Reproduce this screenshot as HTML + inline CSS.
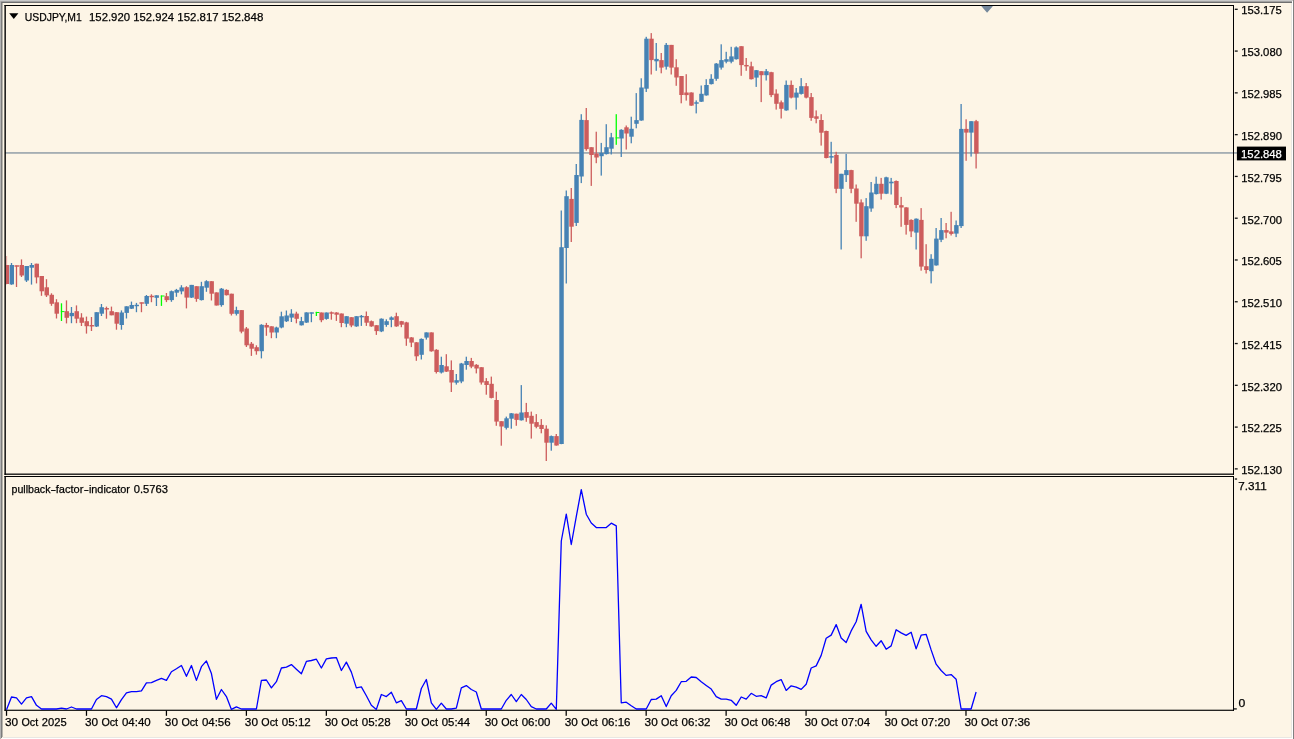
<!DOCTYPE html>
<html lang="en">
<head>
<meta charset="utf-8">
<title>USDJPY,M1</title>
<style>
html,body{margin:0;padding:0;background:#fdf5e6;}
body{width:1294px;height:739px;overflow:hidden;position:relative;}
svg{position:absolute;left:0;top:0;display:block;}
text{font-family:"Liberation Sans",sans-serif;font-size:11.5px;fill:#000;stroke:#000;stroke-width:0.25px;}
</style>
</head>
<body>
<svg width="1294" height="739" viewBox="0 0 1294 739">
<rect x="0" y="0" width="1294" height="739" fill="#fdf5e6"/>
<!-- outer 3D frame -->
<rect x="0" y="0" width="1294" height="1" fill="#c9c9c9"/>
<rect x="0" y="1" width="1294" height="1" fill="#a2a2a2"/>
<rect x="0" y="2" width="1292" height="1" fill="#6f6f6f"/>
<rect x="0" y="1" width="1" height="738" fill="#b2b2b2"/>
<rect x="1" y="2" width="1" height="736" fill="#7c7c7c"/>
<rect x="2" y="3" width="1" height="734" fill="#b9b6ae"/>
<rect x="1291" y="3" width="1" height="735" fill="#e9e7e2"/>
<rect x="1292" y="1" width="1" height="738" fill="#ffffff"/>
<rect x="1293" y="0" width="1" height="739" fill="#808080"/>
<rect x="3" y="737" width="1289" height="1" fill="#e9e7e2"/>
<rect x="2" y="738" width="1291" height="1" fill="#ffffff"/>
<!-- bid line -->
<rect x="5" y="152.35" width="1232" height="1.2" fill="#778899"/>
<!-- candles -->
<clipPath id="cc"><rect x="6" y="6" width="1227" height="467"/></clipPath>
<g clip-path="url(#cc)">
<rect x="5.85" y="256" width="1.3" height="28.5" fill="#cd5c5c" opacity="0.45"/>
<rect x="4.53" y="265" width="4.45" height="19" fill="#cd5c5c"/>
<rect x="10.85" y="263" width="1.3" height="21.8" fill="#4682b4"/>
<rect x="9.53" y="265" width="4.45" height="19.4" fill="#4682b4"/>
<rect x="15.85" y="265.5" width="1.3" height="21.5" fill="#cd5c5c"/>
<rect x="14.53" y="265.27" width="4.45" height="1.45" fill="#cd5c5c"/>
<rect x="20.84" y="259.4" width="1.3" height="17.6" fill="#cd5c5c"/>
<rect x="19.52" y="265" width="4.45" height="10.5" fill="#cd5c5c"/>
<rect x="25.84" y="266" width="1.3" height="16" fill="#4682b4"/>
<rect x="24.52" y="266" width="4.45" height="14.5" fill="#4682b4"/>
<rect x="30.84" y="263" width="1.3" height="21.6" fill="#4682b4"/>
<rect x="29.52" y="265" width="4.45" height="2.7" fill="#4682b4"/>
<rect x="35.84" y="263.7" width="1.3" height="19.7" fill="#cd5c5c"/>
<rect x="34.52" y="263.7" width="4.45" height="13.7" fill="#cd5c5c"/>
<rect x="40.84" y="276" width="1.3" height="19.8" fill="#cd5c5c"/>
<rect x="39.52" y="276" width="4.45" height="15.3" fill="#cd5c5c"/>
<rect x="45.83" y="279.2" width="1.3" height="17.8" fill="#cd5c5c"/>
<rect x="44.51" y="287.3" width="4.45" height="8.1" fill="#cd5c5c"/>
<rect x="50.83" y="293.3" width="1.3" height="12.5" fill="#cd5c5c"/>
<rect x="49.51" y="294.8" width="4.45" height="9" fill="#cd5c5c"/>
<rect x="55.83" y="299.2" width="1.3" height="19.3" fill="#cd5c5c"/>
<rect x="54.51" y="302.3" width="4.45" height="11.4" fill="#cd5c5c"/>
<rect x="60.83" y="303.3" width="1.3" height="17.7" fill="#00ff00"/>
<rect x="60.83" y="311.1" width="3.7" height="1" fill="#00ff00"/>
<rect x="65.83" y="300.4" width="1.3" height="23" fill="#cd5c5c"/>
<rect x="64.51" y="311.2" width="4.45" height="6.6" fill="#cd5c5c"/>
<rect x="70.82" y="307" width="1.3" height="16.2" fill="#4682b4"/>
<rect x="69.5" y="312.9" width="4.45" height="3.3" fill="#4682b4"/>
<rect x="75.82" y="305.4" width="1.3" height="17.8" fill="#cd5c5c"/>
<rect x="74.5" y="311.2" width="4.45" height="7.5" fill="#cd5c5c"/>
<rect x="80.82" y="313.2" width="1.3" height="12.8" fill="#cd5c5c"/>
<rect x="79.5" y="317.5" width="4.45" height="5.3" fill="#cd5c5c"/>
<rect x="85.82" y="316.6" width="1.3" height="17" fill="#cd5c5c"/>
<rect x="84.5" y="321.2" width="4.45" height="5" fill="#cd5c5c"/>
<rect x="90.82" y="317" width="1.3" height="14" fill="#cd5c5c"/>
<rect x="89.5" y="325.02" width="4.45" height="1.45" fill="#cd5c5c"/>
<rect x="95.81" y="312.2" width="1.3" height="14.8" fill="#4682b4"/>
<rect x="94.49" y="312.2" width="4.45" height="14.3" fill="#4682b4"/>
<rect x="100.81" y="304" width="1.3" height="12" fill="#4682b4"/>
<rect x="99.49" y="307.2" width="4.45" height="6.5" fill="#4682b4"/>
<rect x="105.81" y="306.6" width="1.3" height="12.1" fill="#cd5c5c"/>
<rect x="104.49" y="308.07" width="4.45" height="1.45" fill="#cd5c5c"/>
<rect x="110.81" y="306.6" width="1.3" height="8.7" fill="#cd5c5c"/>
<rect x="109.49" y="311.2" width="4.45" height="4.1" fill="#cd5c5c"/>
<rect x="115.81" y="312.2" width="1.3" height="17.5" fill="#cd5c5c"/>
<rect x="114.49" y="312.2" width="4.45" height="11.5" fill="#cd5c5c"/>
<rect x="120.8" y="310.4" width="1.3" height="19.3" fill="#4682b4"/>
<rect x="119.48" y="312.5" width="4.45" height="12.5" fill="#4682b4"/>
<rect x="125.8" y="306.3" width="1.3" height="12.2" fill="#4682b4"/>
<rect x="124.48" y="306.3" width="4.45" height="6.6" fill="#4682b4"/>
<rect x="130.8" y="301.6" width="1.3" height="7.4" fill="#4682b4"/>
<rect x="129.48" y="305" width="4.45" height="3.7" fill="#4682b4"/>
<rect x="135.8" y="302.9" width="1.3" height="9.3" fill="#4682b4"/>
<rect x="134.48" y="304.77" width="4.45" height="1.45" fill="#4682b4"/>
<rect x="140.8" y="302.5" width="1.3" height="9.7" fill="#cd5c5c"/>
<rect x="139.48" y="302.27" width="4.45" height="1.45" fill="#cd5c5c"/>
<rect x="145.79" y="295" width="1.3" height="11" fill="#4682b4"/>
<rect x="144.47" y="296" width="4.45" height="7.8" fill="#4682b4"/>
<rect x="150.79" y="294.3" width="1.3" height="7.9" fill="#cd5c5c"/>
<rect x="149.47" y="295.77" width="4.45" height="1.45" fill="#cd5c5c"/>
<rect x="155.79" y="295.3" width="1.3" height="10.7" fill="#4682b4"/>
<rect x="154.47" y="295.3" width="4.45" height="2.5" fill="#4682b4"/>
<rect x="160.79" y="295.5" width="1.3" height="10.4" fill="#00ff00"/>
<rect x="160.79" y="295.5" width="3.7" height="1" fill="#00ff00"/>
<rect x="165.79" y="293" width="1.3" height="9.1" fill="#cd5c5c"/>
<rect x="164.47" y="296.2" width="4.45" height="3.9" fill="#cd5c5c"/>
<rect x="170.78" y="290.5" width="1.3" height="11.3" fill="#4682b4"/>
<rect x="169.46" y="291.2" width="4.45" height="8.9" fill="#4682b4"/>
<rect x="175.78" y="288.9" width="1.3" height="7.9" fill="#4682b4"/>
<rect x="174.46" y="289.9" width="4.45" height="2.8" fill="#4682b4"/>
<rect x="180.78" y="285.2" width="1.3" height="9.1" fill="#4682b4"/>
<rect x="179.46" y="287.4" width="4.45" height="4" fill="#4682b4"/>
<rect x="185.78" y="286.2" width="1.3" height="22.2" fill="#cd5c5c"/>
<rect x="184.46" y="287.2" width="4.45" height="10.4" fill="#cd5c5c"/>
<rect x="190.78" y="284.9" width="1.3" height="13.1" fill="#4682b4"/>
<rect x="189.46" y="284.9" width="4.45" height="12.7" fill="#4682b4"/>
<rect x="195.77" y="286.2" width="1.3" height="15.6" fill="#cd5c5c"/>
<rect x="194.45" y="286.2" width="4.45" height="12.7" fill="#cd5c5c"/>
<rect x="200.77" y="281.8" width="1.3" height="18.7" fill="#4682b4"/>
<rect x="199.45" y="286.2" width="4.45" height="13.9" fill="#4682b4"/>
<rect x="205.77" y="280.2" width="1.3" height="11.6" fill="#4682b4"/>
<rect x="204.45" y="281.2" width="4.45" height="6.5" fill="#4682b4"/>
<rect x="210.77" y="281.2" width="1.3" height="19.3" fill="#cd5c5c"/>
<rect x="209.45" y="281.2" width="4.45" height="12.5" fill="#cd5c5c"/>
<rect x="215.77" y="292.4" width="1.3" height="13.1" fill="#cd5c5c"/>
<rect x="214.45" y="292.4" width="4.45" height="13.1" fill="#cd5c5c"/>
<rect x="220.76" y="288" width="1.3" height="18.7" fill="#4682b4"/>
<rect x="219.44" y="288.7" width="4.45" height="16.4" fill="#4682b4"/>
<rect x="225.76" y="289.3" width="1.3" height="6.2" fill="#cd5c5c"/>
<rect x="224.44" y="289.9" width="4.45" height="5.3" fill="#cd5c5c"/>
<rect x="230.76" y="293.7" width="1.3" height="21.8" fill="#cd5c5c"/>
<rect x="229.44" y="293.7" width="4.45" height="20.1" fill="#cd5c5c"/>
<rect x="235.76" y="306.7" width="1.3" height="8.8" fill="#4682b4"/>
<rect x="234.44" y="310.1" width="4.45" height="3.7" fill="#4682b4"/>
<rect x="240.76" y="310.1" width="1.3" height="23.2" fill="#cd5c5c"/>
<rect x="239.44" y="310.1" width="4.45" height="21.5" fill="#cd5c5c"/>
<rect x="245.75" y="327" width="1.3" height="20" fill="#cd5c5c"/>
<rect x="244.43" y="328.5" width="4.45" height="16.8" fill="#cd5c5c"/>
<rect x="250.75" y="342" width="1.3" height="13.9" fill="#cd5c5c"/>
<rect x="249.43" y="343.7" width="4.45" height="5" fill="#cd5c5c"/>
<rect x="255.75" y="345.3" width="1.3" height="9.4" fill="#cd5c5c"/>
<rect x="254.43" y="347.2" width="4.45" height="4" fill="#cd5c5c"/>
<rect x="260.75" y="324.2" width="1.3" height="34.2" fill="#4682b4"/>
<rect x="259.43" y="324.8" width="4.45" height="26.4" fill="#4682b4"/>
<rect x="265.75" y="322.9" width="1.3" height="12.9" fill="#cd5c5c"/>
<rect x="264.43" y="325" width="4.45" height="2.5" fill="#cd5c5c"/>
<rect x="270.74" y="326.3" width="1.3" height="11.9" fill="#cd5c5c"/>
<rect x="269.42" y="326.3" width="4.45" height="6.2" fill="#cd5c5c"/>
<rect x="275.74" y="326.7" width="1.3" height="11.5" fill="#4682b4"/>
<rect x="274.42" y="327.5" width="4.45" height="5" fill="#4682b4"/>
<rect x="280.74" y="311.7" width="1.3" height="16.6" fill="#4682b4"/>
<rect x="279.42" y="316.3" width="4.45" height="11.2" fill="#4682b4"/>
<rect x="285.74" y="310.5" width="1.3" height="11.5" fill="#4682b4"/>
<rect x="284.42" y="315.5" width="4.45" height="5.8" fill="#4682b4"/>
<rect x="290.74" y="309.2" width="1.3" height="12.8" fill="#4682b4"/>
<rect x="289.42" y="313.6" width="4.45" height="4" fill="#4682b4"/>
<rect x="295.73" y="311.7" width="1.3" height="11.6" fill="#cd5c5c"/>
<rect x="294.41" y="313.6" width="4.45" height="5.2" fill="#cd5c5c"/>
<rect x="300.73" y="316.9" width="1.3" height="8.6" fill="#4682b4"/>
<rect x="299.41" y="321.1" width="4.45" height="4.2" fill="#4682b4"/>
<rect x="305.73" y="312.3" width="1.3" height="10.6" fill="#4682b4"/>
<rect x="304.41" y="312.4" width="4.45" height="10.2" fill="#4682b4"/>
<rect x="310.73" y="312.5" width="1.3" height="9.7" fill="#4682b4"/>
<rect x="309.41" y="312.27" width="4.45" height="1.45" fill="#4682b4"/>
<rect x="315.73" y="311.8" width="1.3" height="4.2" fill="#00ff00"/>
<rect x="315.73" y="312" width="3.7" height="1" fill="#00ff00"/>
<rect x="320.72" y="312.5" width="1.3" height="9.7" fill="#cd5c5c"/>
<rect x="319.4" y="312.5" width="4.45" height="7.7" fill="#cd5c5c"/>
<rect x="325.72" y="312.5" width="1.3" height="7.2" fill="#4682b4"/>
<rect x="324.4" y="312.5" width="4.45" height="6.4" fill="#4682b4"/>
<rect x="330.72" y="311.5" width="1.3" height="8.2" fill="#cd5c5c"/>
<rect x="329.4" y="312.27" width="4.45" height="1.45" fill="#cd5c5c"/>
<rect x="335.72" y="312.2" width="1.3" height="8.7" fill="#cd5c5c"/>
<rect x="334.4" y="312.5" width="4.45" height="2.2" fill="#cd5c5c"/>
<rect x="340.72" y="313.5" width="1.3" height="13.7" fill="#cd5c5c"/>
<rect x="339.4" y="313.5" width="4.45" height="9.5" fill="#cd5c5c"/>
<rect x="345.71" y="316.2" width="1.3" height="11" fill="#4682b4"/>
<rect x="344.39" y="316.2" width="4.45" height="7.5" fill="#4682b4"/>
<rect x="350.71" y="317.2" width="1.3" height="10" fill="#cd5c5c"/>
<rect x="349.39" y="317.2" width="4.45" height="8.3" fill="#cd5c5c"/>
<rect x="355.71" y="316.2" width="1.3" height="10.6" fill="#4682b4"/>
<rect x="354.39" y="316.2" width="4.45" height="10.2" fill="#4682b4"/>
<rect x="360.71" y="315" width="1.3" height="10.9" fill="#4682b4"/>
<rect x="359.39" y="315.88" width="4.45" height="1.45" fill="#4682b4"/>
<rect x="365.71" y="311.5" width="1.3" height="14.4" fill="#cd5c5c"/>
<rect x="364.39" y="316" width="4.45" height="6.7" fill="#cd5c5c"/>
<rect x="370.7" y="320.5" width="1.3" height="6.3" fill="#cd5c5c"/>
<rect x="369.38" y="321.2" width="4.45" height="5.2" fill="#cd5c5c"/>
<rect x="375.7" y="325.2" width="1.3" height="9.7" fill="#cd5c5c"/>
<rect x="374.38" y="325.2" width="4.45" height="5.9" fill="#cd5c5c"/>
<rect x="380.7" y="318.4" width="1.3" height="13.7" fill="#4682b4"/>
<rect x="379.38" y="318.7" width="4.45" height="12.7" fill="#4682b4"/>
<rect x="385.7" y="319.3" width="1.3" height="7.5" fill="#4682b4"/>
<rect x="384.38" y="321.2" width="4.45" height="3.7" fill="#4682b4"/>
<rect x="390.7" y="316.4" width="1.3" height="10.8" fill="#4682b4"/>
<rect x="389.38" y="317.4" width="4.45" height="2.5" fill="#4682b4"/>
<rect x="395.69" y="312.7" width="1.3" height="14.1" fill="#cd5c5c"/>
<rect x="394.37" y="316.2" width="4.45" height="10.2" fill="#cd5c5c"/>
<rect x="400.69" y="320.9" width="1.3" height="6.3" fill="#cd5c5c"/>
<rect x="399.37" y="321.2" width="4.45" height="3.5" fill="#cd5c5c"/>
<rect x="405.69" y="321.8" width="1.3" height="24" fill="#cd5c5c"/>
<rect x="404.37" y="322.4" width="4.45" height="16.2" fill="#cd5c5c"/>
<rect x="410.69" y="337.1" width="1.3" height="10" fill="#cd5c5c"/>
<rect x="409.37" y="337.4" width="4.45" height="5.2" fill="#cd5c5c"/>
<rect x="415.69" y="342.1" width="1.3" height="18.7" fill="#cd5c5c"/>
<rect x="414.37" y="342.3" width="4.45" height="14" fill="#cd5c5c"/>
<rect x="420.68" y="338.4" width="1.3" height="21.1" fill="#4682b4"/>
<rect x="419.36" y="338.9" width="4.45" height="15.9" fill="#4682b4"/>
<rect x="425.68" y="332.4" width="1.3" height="7.2" fill="#4682b4"/>
<rect x="424.36" y="332.4" width="4.45" height="5.2" fill="#4682b4"/>
<rect x="430.68" y="332.4" width="1.3" height="19.3" fill="#cd5c5c"/>
<rect x="429.36" y="332.4" width="4.45" height="18.9" fill="#cd5c5c"/>
<rect x="435.68" y="349.2" width="1.3" height="24.3" fill="#cd5c5c"/>
<rect x="434.36" y="349.8" width="4.45" height="22.2" fill="#cd5c5c"/>
<rect x="440.68" y="356.7" width="1.3" height="16.8" fill="#4682b4"/>
<rect x="439.36" y="365" width="4.45" height="7.5" fill="#4682b4"/>
<rect x="445.67" y="354.2" width="1.3" height="17.8" fill="#cd5c5c"/>
<rect x="444.35" y="366.3" width="4.45" height="5.3" fill="#cd5c5c"/>
<rect x="450.67" y="360.4" width="1.3" height="31.6" fill="#cd5c5c"/>
<rect x="449.35" y="370" width="4.45" height="12.5" fill="#cd5c5c"/>
<rect x="455.67" y="374" width="1.3" height="10.6" fill="#4682b4"/>
<rect x="454.35" y="380.2" width="4.45" height="2.5" fill="#4682b4"/>
<rect x="460.67" y="362.9" width="1.3" height="20.3" fill="#4682b4"/>
<rect x="459.35" y="363.5" width="4.45" height="18" fill="#4682b4"/>
<rect x="465.67" y="356.7" width="1.3" height="13" fill="#4682b4"/>
<rect x="464.35" y="361" width="4.45" height="4" fill="#4682b4"/>
<rect x="470.66" y="357.9" width="1.3" height="10.3" fill="#cd5c5c"/>
<rect x="469.34" y="361" width="4.45" height="5.6" fill="#cd5c5c"/>
<rect x="475.66" y="364.1" width="1.3" height="9.3" fill="#cd5c5c"/>
<rect x="474.34" y="364.8" width="4.45" height="3.7" fill="#cd5c5c"/>
<rect x="480.66" y="367.2" width="1.3" height="17.4" fill="#cd5c5c"/>
<rect x="479.34" y="367.2" width="4.45" height="15.3" fill="#cd5c5c"/>
<rect x="485.66" y="378.1" width="1.3" height="16.6" fill="#cd5c5c"/>
<rect x="484.34" y="381.1" width="4.45" height="3.9" fill="#cd5c5c"/>
<rect x="490.66" y="376.6" width="1.3" height="21.8" fill="#cd5c5c"/>
<rect x="489.34" y="383.8" width="4.45" height="14.1" fill="#cd5c5c"/>
<rect x="495.65" y="391.7" width="1.3" height="34.1" fill="#cd5c5c"/>
<rect x="494.33" y="400" width="4.45" height="21.6" fill="#cd5c5c"/>
<rect x="500.65" y="421.2" width="1.3" height="24.5" fill="#cd5c5c"/>
<rect x="499.33" y="421.2" width="4.45" height="5.3" fill="#cd5c5c"/>
<rect x="505.65" y="416.6" width="1.3" height="12.9" fill="#4682b4"/>
<rect x="504.33" y="418.3" width="4.45" height="9.5" fill="#4682b4"/>
<rect x="510.65" y="413" width="1.3" height="15.7" fill="#4682b4"/>
<rect x="509.33" y="413.3" width="4.45" height="5.4" fill="#4682b4"/>
<rect x="515.65" y="413.7" width="1.3" height="12.1" fill="#cd5c5c"/>
<rect x="514.33" y="413.7" width="4.45" height="6.2" fill="#cd5c5c"/>
<rect x="520.64" y="385.1" width="1.3" height="35.5" fill="#4682b4"/>
<rect x="519.32" y="412.5" width="4.45" height="7.8" fill="#4682b4"/>
<rect x="525.64" y="402.9" width="1.3" height="18.9" fill="#cd5c5c"/>
<rect x="524.32" y="412.1" width="4.45" height="5.7" fill="#cd5c5c"/>
<rect x="530.64" y="411.6" width="1.3" height="27" fill="#cd5c5c"/>
<rect x="529.32" y="415.8" width="4.45" height="7.9" fill="#cd5c5c"/>
<rect x="535.64" y="414.1" width="1.3" height="14.2" fill="#cd5c5c"/>
<rect x="534.32" y="422.1" width="4.45" height="4.7" fill="#cd5c5c"/>
<rect x="540.64" y="419.1" width="1.3" height="14.2" fill="#cd5c5c"/>
<rect x="539.32" y="424.9" width="4.45" height="4.1" fill="#cd5c5c"/>
<rect x="545.63" y="425.3" width="1.3" height="35.7" fill="#cd5c5c"/>
<rect x="544.31" y="428.7" width="4.45" height="14" fill="#cd5c5c"/>
<rect x="550.63" y="435.5" width="1.3" height="15.2" fill="#4682b4"/>
<rect x="549.31" y="436.1" width="4.45" height="6.6" fill="#4682b4"/>
<rect x="555.63" y="434" width="1.3" height="11.7" fill="#cd5c5c"/>
<rect x="554.31" y="436.1" width="4.45" height="9.4" fill="#cd5c5c"/>
<rect x="560.63" y="210.5" width="1.3" height="233.7" fill="#4682b4"/>
<rect x="559.31" y="247.2" width="4.45" height="196.8" fill="#4682b4"/>
<rect x="565.63" y="190.5" width="1.3" height="93" fill="#4682b4"/>
<rect x="564.31" y="196.2" width="4.45" height="51.8" fill="#4682b4"/>
<rect x="570.62" y="188" width="1.3" height="54" fill="#cd5c5c"/>
<rect x="569.3" y="198.9" width="4.45" height="27.8" fill="#cd5c5c"/>
<rect x="575.62" y="164" width="1.3" height="62" fill="#4682b4"/>
<rect x="574.3" y="175" width="4.45" height="47.9" fill="#4682b4"/>
<rect x="580.62" y="114.2" width="1.3" height="68.9" fill="#4682b4"/>
<rect x="579.3" y="119.9" width="4.45" height="56.6" fill="#4682b4"/>
<rect x="585.62" y="108" width="1.3" height="42.7" fill="#cd5c5c"/>
<rect x="584.3" y="120.1" width="4.45" height="29" fill="#cd5c5c"/>
<rect x="590.62" y="147.2" width="1.3" height="38.7" fill="#cd5c5c"/>
<rect x="589.3" y="147.2" width="4.45" height="7.8" fill="#cd5c5c"/>
<rect x="595.61" y="131.7" width="1.3" height="31.5" fill="#cd5c5c"/>
<rect x="594.29" y="153.5" width="4.45" height="4" fill="#cd5c5c"/>
<rect x="600.61" y="142.9" width="1.3" height="32.7" fill="#4682b4"/>
<rect x="599.29" y="152.9" width="4.45" height="3.3" fill="#4682b4"/>
<rect x="605.61" y="124.2" width="1.3" height="30.3" fill="#4682b4"/>
<rect x="604.29" y="147.2" width="4.45" height="6.9" fill="#4682b4"/>
<rect x="610.61" y="132.9" width="1.3" height="21.6" fill="#4682b4"/>
<rect x="609.29" y="137.3" width="4.45" height="11.4" fill="#4682b4"/>
<rect x="615.61" y="114.2" width="1.3" height="30.6" fill="#00ff00"/>
<rect x="615.61" y="137.4" width="3.7" height="1" fill="#00ff00"/>
<rect x="620.6" y="129.2" width="1.3" height="27.8" fill="#4682b4"/>
<rect x="619.28" y="129.8" width="4.45" height="8.7" fill="#4682b4"/>
<rect x="625.6" y="125.5" width="1.3" height="24" fill="#cd5c5c"/>
<rect x="624.28" y="127.3" width="4.45" height="6.2" fill="#cd5c5c"/>
<rect x="630.6" y="116.7" width="1.3" height="26.6" fill="#4682b4"/>
<rect x="629.28" y="128.8" width="4.45" height="7.9" fill="#4682b4"/>
<rect x="635.6" y="93.1" width="1.3" height="35.2" fill="#4682b4"/>
<rect x="634.28" y="120.1" width="4.45" height="3.7" fill="#4682b4"/>
<rect x="640.6" y="78.3" width="1.3" height="42.5" fill="#4682b4"/>
<rect x="639.28" y="87.5" width="4.45" height="33" fill="#4682b4"/>
<rect x="645.59" y="36.8" width="1.3" height="55.2" fill="#4682b4"/>
<rect x="644.27" y="38.7" width="4.45" height="50" fill="#4682b4"/>
<rect x="650.59" y="33.1" width="1.3" height="41.4" fill="#cd5c5c"/>
<rect x="649.27" y="38.7" width="4.45" height="21.4" fill="#cd5c5c"/>
<rect x="655.59" y="43" width="1.3" height="27.8" fill="#4682b4"/>
<rect x="654.27" y="58.9" width="4.45" height="2.4" fill="#4682b4"/>
<rect x="660.59" y="53" width="1.3" height="20.3" fill="#cd5c5c"/>
<rect x="659.27" y="60.1" width="4.45" height="7.5" fill="#cd5c5c"/>
<rect x="665.59" y="43" width="1.3" height="26.6" fill="#4682b4"/>
<rect x="664.27" y="44.9" width="4.45" height="21.8" fill="#4682b4"/>
<rect x="670.58" y="44.9" width="1.3" height="29.6" fill="#cd5c5c"/>
<rect x="669.26" y="44.9" width="4.45" height="22.7" fill="#cd5c5c"/>
<rect x="675.58" y="59.2" width="1.3" height="26.6" fill="#cd5c5c"/>
<rect x="674.26" y="67.3" width="4.45" height="10.2" fill="#cd5c5c"/>
<rect x="680.58" y="76" width="1.3" height="27.3" fill="#cd5c5c"/>
<rect x="679.26" y="76" width="4.45" height="19" fill="#cd5c5c"/>
<rect x="685.58" y="74.2" width="1.3" height="26.4" fill="#cd5c5c"/>
<rect x="684.26" y="92.5" width="4.45" height="2.6" fill="#cd5c5c"/>
<rect x="690.58" y="92.3" width="1.3" height="13.6" fill="#cd5c5c"/>
<rect x="689.26" y="92.5" width="4.45" height="13.1" fill="#cd5c5c"/>
<rect x="695.57" y="100.4" width="1.3" height="13" fill="#4682b4"/>
<rect x="694.25" y="102.28" width="4.45" height="1.45" fill="#4682b4"/>
<rect x="700.57" y="85.5" width="1.3" height="16.5" fill="#4682b4"/>
<rect x="699.25" y="93.8" width="4.45" height="7.9" fill="#4682b4"/>
<rect x="705.57" y="79.2" width="1.3" height="16.5" fill="#4682b4"/>
<rect x="704.25" y="85" width="4.45" height="10.4" fill="#4682b4"/>
<rect x="710.57" y="74.2" width="1.3" height="10.3" fill="#4682b4"/>
<rect x="709.25" y="78.8" width="4.45" height="5.3" fill="#4682b4"/>
<rect x="715.57" y="63" width="1.3" height="17.8" fill="#4682b4"/>
<rect x="714.25" y="63.6" width="4.45" height="15.2" fill="#4682b4"/>
<rect x="720.56" y="44.3" width="1.3" height="25.3" fill="#4682b4"/>
<rect x="719.24" y="60.1" width="4.45" height="7.5" fill="#4682b4"/>
<rect x="725.56" y="51.8" width="1.3" height="11.5" fill="#4682b4"/>
<rect x="724.24" y="59.2" width="4.45" height="2.5" fill="#4682b4"/>
<rect x="730.56" y="46.8" width="1.3" height="16.5" fill="#4682b4"/>
<rect x="729.24" y="56.4" width="4.45" height="5.3" fill="#4682b4"/>
<rect x="735.56" y="46.4" width="1.3" height="13.2" fill="#4682b4"/>
<rect x="734.24" y="47.4" width="4.45" height="11.8" fill="#4682b4"/>
<rect x="740.56" y="46.2" width="1.3" height="29.6" fill="#cd5c5c"/>
<rect x="739.24" y="46.2" width="4.45" height="18.9" fill="#cd5c5c"/>
<rect x="745.55" y="58" width="1.3" height="12.8" fill="#cd5c5c"/>
<rect x="744.23" y="64.97" width="4.45" height="1.45" fill="#cd5c5c"/>
<rect x="750.55" y="61.7" width="1.3" height="17.8" fill="#cd5c5c"/>
<rect x="749.23" y="66.3" width="4.45" height="12.9" fill="#cd5c5c"/>
<rect x="755.55" y="70" width="1.3" height="16.9" fill="#4682b4"/>
<rect x="754.23" y="70.2" width="4.45" height="7.4" fill="#4682b4"/>
<rect x="760.55" y="71.2" width="1.3" height="30.9" fill="#cd5c5c"/>
<rect x="759.23" y="71.2" width="4.45" height="4" fill="#cd5c5c"/>
<rect x="765.55" y="69" width="1.3" height="11.5" fill="#4682b4"/>
<rect x="764.23" y="71.2" width="4.45" height="4" fill="#4682b4"/>
<rect x="770.54" y="71.8" width="1.3" height="25.3" fill="#cd5c5c"/>
<rect x="769.22" y="72.2" width="4.45" height="22.9" fill="#cd5c5c"/>
<rect x="775.54" y="89.3" width="1.3" height="20.3" fill="#cd5c5c"/>
<rect x="774.22" y="93.6" width="4.45" height="10.2" fill="#cd5c5c"/>
<rect x="780.54" y="100.5" width="1.3" height="18" fill="#cd5c5c"/>
<rect x="779.22" y="102.3" width="4.45" height="6.5" fill="#cd5c5c"/>
<rect x="785.54" y="80.5" width="1.3" height="30.3" fill="#4682b4"/>
<rect x="784.22" y="84.9" width="4.45" height="25.5" fill="#4682b4"/>
<rect x="790.54" y="80.5" width="1.3" height="17.9" fill="#cd5c5c"/>
<rect x="789.22" y="84.9" width="4.45" height="12.7" fill="#cd5c5c"/>
<rect x="795.53" y="88" width="1.3" height="21.6" fill="#4682b4"/>
<rect x="794.21" y="92.6" width="4.45" height="5" fill="#4682b4"/>
<rect x="800.53" y="78.1" width="1.3" height="16.5" fill="#4682b4"/>
<rect x="799.21" y="86.2" width="4.45" height="7.7" fill="#4682b4"/>
<rect x="805.53" y="83" width="1.3" height="15.4" fill="#cd5c5c"/>
<rect x="804.21" y="86.2" width="4.45" height="11.4" fill="#cd5c5c"/>
<rect x="810.53" y="93" width="1.3" height="27.8" fill="#cd5c5c"/>
<rect x="809.21" y="97.1" width="4.45" height="20.8" fill="#cd5c5c"/>
<rect x="815.53" y="110.4" width="1.3" height="12.9" fill="#cd5c5c"/>
<rect x="814.21" y="116.3" width="4.45" height="2.5" fill="#cd5c5c"/>
<rect x="820.52" y="114.2" width="1.3" height="31.4" fill="#cd5c5c"/>
<rect x="819.2" y="120" width="4.45" height="12.7" fill="#cd5c5c"/>
<rect x="825.52" y="130.6" width="1.3" height="27.8" fill="#cd5c5c"/>
<rect x="824.2" y="131" width="4.45" height="27" fill="#cd5c5c"/>
<rect x="830.52" y="141.8" width="1.3" height="21.6" fill="#4682b4"/>
<rect x="829.2" y="156.1" width="4.45" height="1.5" fill="#4682b4"/>
<rect x="835.52" y="151.8" width="1.3" height="41.4" fill="#cd5c5c"/>
<rect x="834.2" y="154.9" width="4.45" height="33.9" fill="#cd5c5c"/>
<rect x="840.52" y="173.8" width="1.3" height="75.7" fill="#4682b4"/>
<rect x="839.2" y="173.8" width="4.45" height="15" fill="#4682b4"/>
<rect x="845.51" y="153.9" width="1.3" height="28.1" fill="#4682b4"/>
<rect x="844.19" y="170.1" width="4.45" height="5" fill="#4682b4"/>
<rect x="850.51" y="169.8" width="1.3" height="23.4" fill="#cd5c5c"/>
<rect x="849.19" y="170.1" width="4.45" height="18.7" fill="#cd5c5c"/>
<rect x="855.51" y="184.5" width="1.3" height="37.3" fill="#cd5c5c"/>
<rect x="854.19" y="188.5" width="4.45" height="15.2" fill="#cd5c5c"/>
<rect x="860.51" y="199.4" width="1.3" height="58.9" fill="#cd5c5c"/>
<rect x="859.19" y="202.4" width="4.45" height="33.9" fill="#cd5c5c"/>
<rect x="865.51" y="198.1" width="1.3" height="42.7" fill="#4682b4"/>
<rect x="864.19" y="206.2" width="4.45" height="30.1" fill="#4682b4"/>
<rect x="870.5" y="182" width="1.3" height="29.8" fill="#4682b4"/>
<rect x="869.18" y="192.5" width="4.45" height="16" fill="#4682b4"/>
<rect x="875.5" y="176.7" width="1.3" height="17.8" fill="#4682b4"/>
<rect x="874.18" y="183.8" width="4.45" height="10.3" fill="#4682b4"/>
<rect x="880.5" y="177.9" width="1.3" height="21.7" fill="#cd5c5c"/>
<rect x="879.18" y="183.8" width="4.45" height="9.9" fill="#cd5c5c"/>
<rect x="885.5" y="176.7" width="1.3" height="17.4" fill="#4682b4"/>
<rect x="884.18" y="177.3" width="4.45" height="16.4" fill="#4682b4"/>
<rect x="890.5" y="177.9" width="1.3" height="16.6" fill="#4682b4"/>
<rect x="889.18" y="181.7" width="4.45" height="1.6" fill="#4682b4"/>
<rect x="895.49" y="180.4" width="1.3" height="27.7" fill="#cd5c5c"/>
<rect x="894.17" y="181" width="4.45" height="24" fill="#cd5c5c"/>
<rect x="900.49" y="196.9" width="1.3" height="29.9" fill="#cd5c5c"/>
<rect x="899.17" y="205.2" width="4.45" height="2.3" fill="#cd5c5c"/>
<rect x="905.49" y="207.2" width="1.3" height="27.4" fill="#cd5c5c"/>
<rect x="904.17" y="207.4" width="4.45" height="17.5" fill="#cd5c5c"/>
<rect x="910.49" y="219.3" width="1.3" height="17.8" fill="#cd5c5c"/>
<rect x="909.17" y="219.9" width="4.45" height="11.5" fill="#cd5c5c"/>
<rect x="915.49" y="218.4" width="1.3" height="31.1" fill="#4682b4"/>
<rect x="914.17" y="218.7" width="4.45" height="13.9" fill="#4682b4"/>
<rect x="920.48" y="208.1" width="1.3" height="62.6" fill="#cd5c5c"/>
<rect x="919.16" y="219.9" width="4.45" height="46.7" fill="#cd5c5c"/>
<rect x="925.48" y="244.2" width="1.3" height="29.3" fill="#cd5c5c"/>
<rect x="924.16" y="266.2" width="4.45" height="3.8" fill="#cd5c5c"/>
<rect x="930.48" y="254.2" width="1.3" height="29.2" fill="#4682b4"/>
<rect x="929.16" y="258.8" width="4.45" height="12.4" fill="#4682b4"/>
<rect x="935.48" y="228" width="1.3" height="37.7" fill="#4682b4"/>
<rect x="934.16" y="238.6" width="4.45" height="26.8" fill="#4682b4"/>
<rect x="940.48" y="218" width="1.3" height="24.1" fill="#4682b4"/>
<rect x="939.16" y="230.1" width="4.45" height="9.7" fill="#4682b4"/>
<rect x="945.47" y="223" width="1.3" height="15.3" fill="#cd5c5c"/>
<rect x="944.15" y="230.1" width="4.45" height="2.5" fill="#cd5c5c"/>
<rect x="950.47" y="211.8" width="1.3" height="23.7" fill="#cd5c5c"/>
<rect x="949.15" y="231.4" width="4.45" height="2.5" fill="#cd5c5c"/>
<rect x="955.47" y="220.5" width="1.3" height="16.6" fill="#4682b4"/>
<rect x="954.15" y="225.1" width="4.45" height="8.5" fill="#4682b4"/>
<rect x="960.47" y="104" width="1.3" height="124" fill="#4682b4"/>
<rect x="959.15" y="128.9" width="4.45" height="97.2" fill="#4682b4"/>
<rect x="965.47" y="119.3" width="1.3" height="41.5" fill="#cd5c5c"/>
<rect x="964.15" y="128.9" width="4.45" height="3.7" fill="#cd5c5c"/>
<rect x="970.46" y="121.2" width="1.3" height="35.4" fill="#4682b4"/>
<rect x="969.14" y="121.2" width="4.45" height="11.4" fill="#4682b4"/>
<rect x="975.46" y="119.9" width="1.3" height="48.6" fill="#cd5c5c"/>
<rect x="974.14" y="121.2" width="4.45" height="32.3" fill="#cd5c5c"/>
</g>
<!-- chart shift marker -->
<polygon points="980.8,5.5 993.4,5.5 987.1,12.8" fill="#74879b"/>
<!-- main window frame -->
<rect x="4.45" y="5" width="1229.55" height="1" fill="#000"/>
<rect x="4.45" y="473.55" width="1229.55" height="1.25" fill="#000"/>
<rect x="4.45" y="5" width="1.4" height="469.8" fill="#000"/>
<rect x="1233" y="5" width="1" height="469.8" fill="#000"/>
<!-- indicator window frame -->
<rect x="4.45" y="476" width="1229.55" height="1" fill="#000"/>
<rect x="4.45" y="709.7" width="1229.55" height="1.15" fill="#000"/>
<rect x="4.45" y="476" width="1.4" height="234.8" fill="#000"/>
<rect x="1233" y="476" width="1" height="235" fill="#000"/>
<!-- indicator line -->
<polyline points="6.5,709.7 11.5,697 16.5,697.9 21.49,704.1 26.49,697.9 31.49,696.7 36.49,705.3 41.49,709 46.48,709 51.48,709 56.48,709 61.48,708.2 66.48,709 71.47,707 76.47,709 81.47,709 86.47,709 91.47,709 96.46,699.5 101.46,695.7 106.46,696.6 111.46,699.1 116.46,707.8 121.45,699.7 126.45,692.9 131.45,691.6 136.45,691.6 141.45,690.8 146.44,682.9 151.44,682.7 156.44,680.4 161.44,678.3 166.44,680.4 171.43,671.7 176.43,668.8 181.43,665.5 186.43,676.3 191.43,665.5 196.42,680.4 201.42,666.7 206.42,660.9 211.42,673.6 216.42,699.3 221.41,689.5 226.41,696.6 231.41,709.4 236.41,706.9 241.41,709 246.4,709 251.4,709 256.4,709 261.4,680.4 266.4,680 271.39,687.9 276.39,681.7 281.39,668 286.39,667.1 291.39,664.6 296.38,669.2 301.38,673.8 306.38,661.4 311.38,660.5 316.38,659.2 321.37,668 326.37,658.9 331.37,658 336.37,657.6 341.37,670.5 346.36,662.1 351.36,672.1 356.36,687.9 361.36,686.9 366.36,695.7 371.35,705.3 376.35,709.4 381.35,694.5 386.35,696.6 391.35,692.2 396.34,702.8 401.34,700.6 406.34,709 411.34,709 416.34,709 421.33,688.5 426.33,679.5 431.33,702.8 436.33,709.4 441.33,703.2 446.32,709 451.32,709 456.32,708.2 461.32,687.9 466.32,685.6 471.31,689.5 476.31,692 481.31,709 486.31,709 491.31,709 496.3,709 501.3,709 506.3,700.3 511.3,694.5 516.3,701.6 521.29,694.5 526.29,699.5 531.29,706.6 536.29,709 541.29,709 546.28,709 551.28,703.2 556.28,709.4 561.28,541 566.28,514.2 571.27,544.5 576.27,516.7 581.27,489.6 586.27,514.2 591.27,523 596.26,527.6 601.26,527.6 606.26,527.6 611.26,523.2 616.26,525.8 621.25,702.8 626.25,702.2 631.25,705.7 636.25,709 641.25,709 646.24,709 651.24,699.5 656.24,699.1 661.24,695.7 666.24,706.6 671.23,695.7 676.23,690.4 681.23,681.7 686.23,681.3 691.23,677 696.22,677.5 701.22,681.7 706.22,685.4 711.22,689.1 716.22,696.6 721.21,699.1 726.21,699.1 731.21,700.3 736.21,705.3 741.21,697 746.2,699.1 751.2,693.3 756.2,696.3 761.2,695.7 766.2,697.9 771.19,685.1 776.19,681.7 781.19,679.6 786.19,690.4 791.19,685.8 796.18,687.1 801.18,689.4 806.18,684.2 811.18,668 816.18,665.9 821.17,655.4 826.17,638.3 831.17,635.1 836.17,624.6 841.17,638 846.16,642.6 851.16,630.9 856.16,621.8 861.16,604.3 866.16,631.4 871.15,639.8 876.15,646.3 881.15,640.7 886.15,649.2 891.15,645.9 896.14,629.7 901.14,632.9 906.14,635.4 911.14,632.3 916.14,648.9 921.13,635.2 926.13,634.3 931.13,649.9 936.13,664.2 941.13,670.5 946.12,675.4 951.12,674.6 956.12,679.2 961.12,709 966.12,709 971.11,709 976.11,692" fill="none" stroke="#0000ff" stroke-width="1.3" stroke-linejoin="round"/>
<!-- price axis -->
<rect x="1234.8" y="8.65" width="2.9" height="1.3" fill="#111"/>
<rect x="1234.8" y="50.43" width="2.9" height="1.3" fill="#111"/>
<rect x="1234.8" y="92.21" width="2.9" height="1.3" fill="#111"/>
<rect x="1234.8" y="133.99" width="2.9" height="1.3" fill="#111"/>
<rect x="1234.8" y="175.77" width="2.9" height="1.3" fill="#111"/>
<rect x="1234.8" y="217.55" width="2.9" height="1.3" fill="#111"/>
<rect x="1234.8" y="259.33" width="2.9" height="1.3" fill="#111"/>
<rect x="1234.8" y="301.11" width="2.9" height="1.3" fill="#111"/>
<rect x="1234.8" y="342.89" width="2.9" height="1.3" fill="#111"/>
<rect x="1234.8" y="384.67" width="2.9" height="1.3" fill="#111"/>
<rect x="1234.8" y="426.45" width="2.9" height="1.3" fill="#111"/>
<rect x="1234.8" y="468.23" width="2.9" height="1.3" fill="#111"/>
<rect x="1236.9" y="146.6" width="49.1" height="13.8" fill="#000"/>
<!-- indicator axis -->
<rect x="1234.8" y="478.35" width="2.3" height="1.3" fill="#111"/>
<rect x="1234" y="708.2" width="2.8" height="1.4" fill="#222"/>
<!-- titles -->
<polygon points="9.2,13.3 18.4,13.3 13.8,18.9" fill="#000"/>
<!-- time axis -->
<rect x="5.9" y="710.5" width="1.25" height="5.3" fill="#000"/>
<rect x="85.86" y="710.5" width="1.25" height="5.3" fill="#000"/>
<rect x="165.81" y="710.5" width="1.25" height="5.3" fill="#000"/>
<rect x="245.77" y="710.5" width="1.25" height="5.3" fill="#000"/>
<rect x="325.72" y="710.5" width="1.25" height="5.3" fill="#000"/>
<rect x="405.67" y="710.5" width="1.25" height="5.3" fill="#000"/>
<rect x="485.63" y="710.5" width="1.25" height="5.3" fill="#000"/>
<rect x="565.58" y="710.5" width="1.25" height="5.3" fill="#000"/>
<rect x="645.54" y="710.5" width="1.25" height="5.3" fill="#000"/>
<rect x="725.5" y="710.5" width="1.25" height="5.3" fill="#000"/>
<rect x="805.45" y="710.5" width="1.25" height="5.3" fill="#000"/>
<rect x="885.4" y="710.5" width="1.25" height="5.3" fill="#000"/>
<rect x="965.36" y="710.5" width="1.25" height="5.3" fill="#000"/>
<!-- text -->
<text y="14.2" xml:space="preserve"><tspan x="1241.17" textLength="40.69" lengthAdjust="spacingAndGlyphs">153.175</tspan></text>
<text y="56.38" xml:space="preserve"><tspan x="1241.17" textLength="40.79" lengthAdjust="spacingAndGlyphs">153.080</tspan></text>
<text y="98.16" xml:space="preserve"><tspan x="1241.17" textLength="40.69" lengthAdjust="spacingAndGlyphs">152.985</tspan></text>
<text y="139.94" xml:space="preserve"><tspan x="1241.17" textLength="40.79" lengthAdjust="spacingAndGlyphs">152.890</tspan></text>
<text y="181.72" xml:space="preserve"><tspan x="1241.17" textLength="40.69" lengthAdjust="spacingAndGlyphs">152.795</tspan></text>
<text y="223.5" xml:space="preserve"><tspan x="1241.17" textLength="40.79" lengthAdjust="spacingAndGlyphs">152.700</tspan></text>
<text y="265.28" xml:space="preserve"><tspan x="1241.17" textLength="40.69" lengthAdjust="spacingAndGlyphs">152.605</tspan></text>
<text y="307.06" xml:space="preserve"><tspan x="1241.17" textLength="40.79" lengthAdjust="spacingAndGlyphs">152.510</tspan></text>
<text y="348.84" xml:space="preserve"><tspan x="1241.17" textLength="40.69" lengthAdjust="spacingAndGlyphs">152.415</tspan></text>
<text y="390.62" xml:space="preserve"><tspan x="1241.17" textLength="40.79" lengthAdjust="spacingAndGlyphs">152.320</tspan></text>
<text y="432.4" xml:space="preserve"><tspan x="1241.17" textLength="40.69" lengthAdjust="spacingAndGlyphs">152.225</tspan></text>
<text y="474.18" xml:space="preserve"><tspan x="1241.17" textLength="40.79" lengthAdjust="spacingAndGlyphs">152.130</tspan></text>
<text y="158" style="fill:#fff;stroke:#fff" xml:space="preserve"><tspan x="1241.07" textLength="40.84" lengthAdjust="spacingAndGlyphs">152.848</tspan></text>
<text y="490.2" xml:space="preserve"><tspan x="1238.34" textLength="28.46" lengthAdjust="spacingAndGlyphs">7.311</tspan></text>
<text y="706.7" xml:space="preserve"><tspan x="1238.45" textLength="6.79" lengthAdjust="spacingAndGlyphs">0</tspan></text>
<text y="21" xml:space="preserve"><tspan x="24.8" textLength="56.89" lengthAdjust="spacingAndGlyphs">USDJPY,M1</tspan>  <tspan x="89.07" textLength="40.93" lengthAdjust="spacingAndGlyphs">152.920</tspan> <tspan x="133.37" textLength="40.63" lengthAdjust="spacingAndGlyphs">152.924</tspan> <tspan x="177.35" textLength="41.3" lengthAdjust="spacingAndGlyphs">152.817</tspan> <tspan x="221.66" textLength="41.69" lengthAdjust="spacingAndGlyphs">152.848</tspan></text>
<text y="492.6" xml:space="preserve"><tspan x="11.48" textLength="39.01" lengthAdjust="spacingAndGlyphs">pullback</tspan><tspan x="50.44" textLength="5.63" lengthAdjust="spacingAndGlyphs">-</tspan><tspan x="55.72" textLength="27.67" lengthAdjust="spacingAndGlyphs">factor</tspan><tspan x="83.67" textLength="5.18" lengthAdjust="spacingAndGlyphs">-</tspan><tspan x="88.9" textLength="41.05" lengthAdjust="spacingAndGlyphs">indicator</tspan> <tspan x="133.79" textLength="34.22" lengthAdjust="spacingAndGlyphs">0.5763</tspan></text>
<text y="725.8" xml:space="preserve"><tspan x="4.96" textLength="13.11" lengthAdjust="spacingAndGlyphs">30</tspan> <tspan x="21.47" textLength="16.69" lengthAdjust="spacingAndGlyphs">Oct</tspan> <tspan x="41.84" textLength="24.84" lengthAdjust="spacingAndGlyphs">2025</tspan></text>
<text y="725.8" xml:space="preserve"><tspan x="84.92" textLength="13.11" lengthAdjust="spacingAndGlyphs">30</tspan> <tspan x="101.42" textLength="16.69" lengthAdjust="spacingAndGlyphs">Oct</tspan> <tspan x="121.93" textLength="28.74" lengthAdjust="spacingAndGlyphs">04:40</tspan></text>
<text y="725.8" xml:space="preserve"><tspan x="164.87" textLength="13.11" lengthAdjust="spacingAndGlyphs">30</tspan> <tspan x="181.38" textLength="16.69" lengthAdjust="spacingAndGlyphs">Oct</tspan> <tspan x="201.88" textLength="28.79" lengthAdjust="spacingAndGlyphs">04:56</tspan></text>
<text y="725.8" xml:space="preserve"><tspan x="244.83" textLength="13.11" lengthAdjust="spacingAndGlyphs">30</tspan> <tspan x="261.33" textLength="16.69" lengthAdjust="spacingAndGlyphs">Oct</tspan> <tspan x="281.84" textLength="28.9" lengthAdjust="spacingAndGlyphs">05:12</tspan></text>
<text y="725.8" xml:space="preserve"><tspan x="324.78" textLength="13.11" lengthAdjust="spacingAndGlyphs">30</tspan> <tspan x="341.29" textLength="16.69" lengthAdjust="spacingAndGlyphs">Oct</tspan> <tspan x="361.8" textLength="28.78" lengthAdjust="spacingAndGlyphs">05:28</tspan></text>
<text y="725.8" xml:space="preserve"><tspan x="404.74" textLength="13.11" lengthAdjust="spacingAndGlyphs">30</tspan> <tspan x="421.24" textLength="16.69" lengthAdjust="spacingAndGlyphs">Oct</tspan> <tspan x="441.76" textLength="28.44" lengthAdjust="spacingAndGlyphs">05:44</tspan></text>
<text y="725.8" xml:space="preserve"><tspan x="484.69" textLength="13.11" lengthAdjust="spacingAndGlyphs">30</tspan> <tspan x="501.2" textLength="16.69" lengthAdjust="spacingAndGlyphs">Oct</tspan> <tspan x="521.71" textLength="28.74" lengthAdjust="spacingAndGlyphs">06:00</tspan></text>
<text y="725.8" xml:space="preserve"><tspan x="564.65" textLength="13.11" lengthAdjust="spacingAndGlyphs">30</tspan> <tspan x="581.15" textLength="16.69" lengthAdjust="spacingAndGlyphs">Oct</tspan> <tspan x="601.66" textLength="28.79" lengthAdjust="spacingAndGlyphs">06:16</tspan></text>
<text y="725.8" xml:space="preserve"><tspan x="644.6" textLength="13.11" lengthAdjust="spacingAndGlyphs">30</tspan> <tspan x="661.11" textLength="16.69" lengthAdjust="spacingAndGlyphs">Oct</tspan> <tspan x="681.62" textLength="28.9" lengthAdjust="spacingAndGlyphs">06:32</tspan></text>
<text y="725.8" xml:space="preserve"><tspan x="724.56" textLength="13.11" lengthAdjust="spacingAndGlyphs">30</tspan> <tspan x="741.06" textLength="16.69" lengthAdjust="spacingAndGlyphs">Oct</tspan> <tspan x="761.58" textLength="28.78" lengthAdjust="spacingAndGlyphs">06:48</tspan></text>
<text y="725.8" xml:space="preserve"><tspan x="804.51" textLength="13.11" lengthAdjust="spacingAndGlyphs">30</tspan> <tspan x="821.02" textLength="16.69" lengthAdjust="spacingAndGlyphs">Oct</tspan> <tspan x="841.53" textLength="28.44" lengthAdjust="spacingAndGlyphs">07:04</tspan></text>
<text y="725.8" xml:space="preserve"><tspan x="884.47" textLength="13.11" lengthAdjust="spacingAndGlyphs">30</tspan> <tspan x="900.97" textLength="16.69" lengthAdjust="spacingAndGlyphs">Oct</tspan> <tspan x="921.48" textLength="28.74" lengthAdjust="spacingAndGlyphs">07:20</tspan></text>
<text y="725.8" xml:space="preserve"><tspan x="964.42" textLength="13.11" lengthAdjust="spacingAndGlyphs">30</tspan> <tspan x="980.93" textLength="16.69" lengthAdjust="spacingAndGlyphs">Oct</tspan> <tspan x="1001.43" textLength="28.79" lengthAdjust="spacingAndGlyphs">07:36</tspan></text>
</svg>
</body>
</html>
